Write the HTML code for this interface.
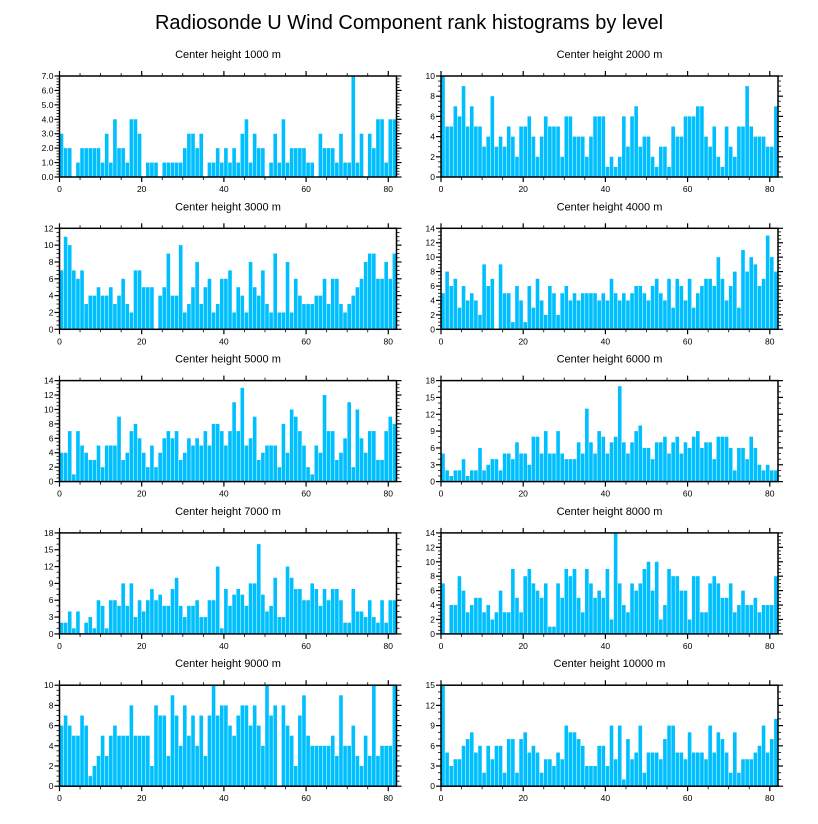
<!DOCTYPE html>
<html><head><meta charset="utf-8"><style>
html,body{margin:0;padding:0;background:#fff;}
svg{display:block;font-family:"Liberation Sans",Arial,sans-serif;}
</style></head><body>
<svg id="chart" width="818" height="824" viewBox="0 0 818 824" xmlns="http://www.w3.org/2000/svg">
<text x="409" y="29" font-size="20" text-anchor="middle" fill="#000">Radiosonde U Wind Component rank histograms by level</text>
</svg>
<script>
const levels = ["1000","2000","3000","4000","5000","6000","7000","8000","9000","10000"];
const yMaxes = [7,10,12,14,14,18,18,14,10,15];
const ySteps = [1,2,2,2,2,3,3,2,2,3];
const xTicks = [0,20,40,60,80];
const h1000 = [3,2,2,0,1,2,2,2,2,2,1,3,1,4,2,2,1,4,4,3,0,1,1,1,0,1,1,1,1,1,2,3,3,2,3,0,1,1,2,1,2,1,2,1,3,4,1,3,2,2,0,1,3,1,4,1,2,2,2,2,1,1,0,3,2,2,2,1,3,1,1,7,1,3,0,3,2,4,4,1,4,4];
const h2000 = [10,5,5,7,6,9,5,7,5,5,3,4,8,3,4,3,5,4,2,5,5,6,4,2,4,6,5,5,5,2,6,6,4,4,4,2,4,6,6,6,1,2,1,2,6,3,6,7,3,4,4,2,1,3,3,1,5,4,4,6,6,6,7,7,4,3,5,2,1,5,3,2,5,5,9,5,4,4,4,3,3,7];
const h3000 = [7,11,10,7,6,7,3,4,4,5,4,4,5,3,4,6,3,2,7,7,5,5,5,0,4,5,9,4,4,10,2,3,5,8,3,5,6,2,3,6,6,7,2,5,4,2,8,5,4,7,3,2,9,2,2,8,2,6,4,3,3,3,4,4,6,3,6,6,3,2,3,4,5,6,8,9,9,6,6,8,6,9];
const h4000 = [5,8,6,7,3,6,4,5,4,2,9,6,7,0,9,5,5,1,6,4,1,6,3,7,4,2,6,5,2,5,6,4,5,4,5,5,5,5,4,5,4,7,5,4,5,4,5,6,6,5,4,6,7,5,4,7,3,7,6,4,7,3,5,6,7,7,6,10,7,4,6,8,3,11,8,10,9,6,7,13,10,8];
const h5000 = [4,4,7,1,7,5,4,3,3,5,2,5,5,5,9,3,4,7,8,6,4,2,5,2,4,6,7,6,7,3,4,6,5,6,5,7,5,8,8,7,5,7,11,7,13,5,6,9,3,4,5,5,5,2,8,4,10,9,7,5,2,1,5,4,12,7,7,3,4,6,11,2,10,6,4,7,7,3,3,7,9,8];
const h6000 = [5,2,1,2,2,4,1,2,2,6,2,3,4,4,2,5,5,4,7,5,5,3,8,8,5,9,5,5,9,5,4,4,4,7,5,13,7,5,9,8,5,7,8,17,7,5,7,9,10,6,6,4,7,7,8,5,7,8,5,7,6,8,9,6,7,7,4,8,8,8,6,2,6,6,4,8,6,3,2,3,2,2];
const h7000 = [2,2,4,1,4,0,2,3,1,6,5,1,6,6,5,9,5,9,3,6,4,6,8,6,7,5,5,8,10,5,3,5,5,6,3,3,6,6,12,1,8,5,7,8,7,5,9,9,16,7,4,5,10,3,3,12,10,8,8,6,6,9,8,5,8,6,8,8,6,2,2,8,4,4,3,6,3,2,6,2,6,6];
const h8000 = [7,0,4,4,8,6,3,4,5,5,3,4,2,3,6,3,3,9,5,3,8,9,7,6,5,7,1,1,7,5,9,8,9,5,3,9,7,5,6,5,9,2,14,7,4,3,7,6,7,9,10,6,10,2,4,9,8,8,6,6,2,8,8,3,3,7,8,7,5,5,7,3,4,6,4,4,5,3,4,4,4,8];
const h9000 = [6,7,6,5,5,7,6,1,2,3,5,3,5,6,5,5,5,8,5,5,5,5,2,8,7,7,3,9,7,4,8,5,7,4,7,3,7,10,7,8,8,6,5,7,8,8,6,8,6,4,10,7,8,0,8,6,5,2,7,9,5,4,4,4,4,4,5,3,9,4,4,6,3,2,5,3,10,3,4,4,4,10];
const h10000 = [15,5,3,4,4,6,7,8,5,6,2,6,4,6,6,2,7,7,2,7,8,5,6,5,2,4,4,3,5,4,9,8,8,7,6,3,3,3,6,6,3,9,4,9,1,7,4,5,9,2,5,5,5,4,7,9,9,5,5,4,8,5,5,5,4,9,5,8,7,5,2,8,2,4,4,4,5,6,9,5,7,10];
const series = [h1000,h2000,h3000,h4000,h5000,h6000,h7000,h8000,h9000,h10000];

const NS = "http://www.w3.org/2000/svg";
const svg = document.getElementById("chart");
function mk(tag, attrs, parent){
  const e = document.createElementNS(NS, tag);
  for (const k in attrs) e.setAttribute(k, attrs[k]);
  (parent||svg).appendChild(e);
  return e;
}
const XMAX = 82;
for (let p = 0; p < 10; p++) {
  const col = p % 2, row = Math.floor(p / 2);
  const L = col === 0 ? 59.5 : 441, W = 337;
  const T = 76 + row * 152.3, H = 101;
  const ymax = yMaxes[p], ystep = ySteps[p];
  const xs = v => L + v / XMAX * W;
  const ys = v => T + H - v / ymax * H;
  const g = mk("g", {});
  
  
  const st = mk("text", {x: L + W/2, y: T - 18, "font-size": 11, "text-anchor": "middle", fill: "#000"}, g);
  
  
  st.textContent = "Center height " + levels[p] + " m";
  const vals = series[p];
  for (let i = 0; i < vals.length; i++) {
    if (vals[i] <= 0) continue;
    const x0 = xs(i), x1 = xs(i + 1);
    const b = mk("rect", {x: x0 + 0.2, y: ys(vals[i]), width: Math.max(0.5, x1 - x0 - 0.5), height: ys(0) - ys(vals[i]), fill: "#00bfff"}, g);
    
    
  }
  const fr = mk("rect", {x: L, y: T, width: W, height: H, fill: "none", stroke: "#000", "stroke-width": 1.5}, g);
  
  
  // x ticks
  for (let v = 0; v <= 80; v += 5) {
    const major = v % 20 === 0, len = major ? 5 : 3, x = xs(v);
    mk("line", {x1: x, x2: x, y1: T + H, y2: T + H + len, stroke: "#000", "stroke-width": major ? 1.2 : 0.8}, g);
    mk("line", {x1: x, x2: x, y1: T, y2: T - len, stroke: "#000", "stroke-width": major ? 1.2 : 0.8}, g);
  }
  for (const v of xTicks) {
    const t = mk("text", {x: xs(v), y: T + H + 15, "font-size": 8.5, "text-anchor": "middle", fill: "#000"}, g);
    
    
    t.textContent = v;
  }
  // y ticks
  const minor = ystep / (ystep === 3 ? 3 : (ystep === 1 ? 5 : 4));
  for (let v = 0; v <= ymax + 1e-9; v += minor) {
    const isMajor = Math.abs(v / ystep - Math.round(v / ystep)) < 1e-6;
    const len = isMajor ? 5 : 3, y = ys(v);
    mk("line", {x1: L, x2: L - len, y1: y, y2: y, stroke: "#000", "stroke-width": isMajor ? 1.2 : 0.8}, g);
    mk("line", {x1: L + W, x2: L + W + len, y1: y, y2: y, stroke: "#000", "stroke-width": isMajor ? 1.2 : 0.8}, g);
  }
  for (let v = 0; v <= ymax + 1e-9; v += ystep) {
    const t = mk("text", {x: L - 6, y: ys(v) + 3, "font-size": 8.5, "text-anchor": "end", fill: "#000"}, g);
    
    
    t.textContent = ystep === 1 ? v.toFixed(1) : String(v);
  }
}
</script>
</body></html>
